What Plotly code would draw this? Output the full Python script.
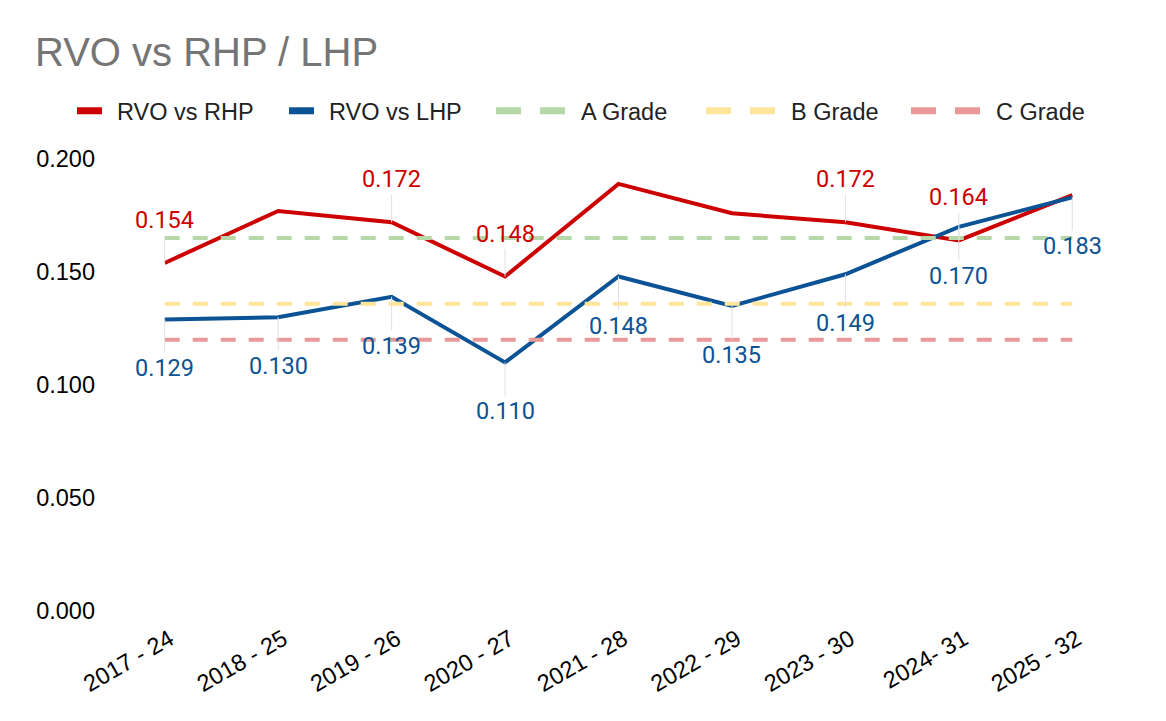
import plotly.graph_objects as go

categories = ["2017 - 24", "2018 - 25", "2019 - 26", "2020 - 27", "2021 - 28",
              "2022 - 29", "2023 - 30", "2024- 31", "2025 - 32"]
rvo_vs_rhp = [0.154, 0.177, 0.172, 0.148, 0.189, 0.176, 0.172, 0.164, 0.184]
rhp_label_shown = [True, False, True, True, False, False, True, True, False]
rvo_vs_lhp = [0.129, 0.130, 0.139, 0.110, 0.148, 0.135, 0.149, 0.170, 0.183]
lhp_label_shown = [True] * 9
grade_a = [0.165] * 9
grade_b = [0.136] * 9
grade_c = [0.120] * 9
y_ticks = [0.0, 0.05, 0.10, 0.15, 0.20]

RED = "#cc0000"
BLUE = "#0b5394"
GREEN = "#b6d7a8"
YELLOW = "#ffe599"
PINK = "#ea9999"
FS = 23.5
W, H = 1158, 713

series = [
    # name, values, colour, plot dash, legend dash, legend id, legend x (px), item width
    ("RVO vs RHP", rvo_vs_rhp, RED, "solid", "25px,200px", "legend", 64, 35),
    ("RVO vs LHP", rvo_vs_lhp, BLUE, "solid", "25px,200px", "legend2", 276, 35),
    ("A Grade", grade_a, GREEN, "15px,13px", "25px,19px", "legend3", 483, 80),
    ("B Grade", grade_b, YELLOW, "15px,13px", "25px,19px", "legend4", 693, 80),
    ("C Grade", grade_c, PINK, "15px,13px", "25px,19px", "legend5", 898, 80),
]

fig = go.Figure()
for name, vals, col, dash, _, _, _, _ in series:
    fig.add_trace(go.Scatter(x=categories, y=vals, mode="lines", name=name, showlegend=False,
                             line=dict(color=col, width=4, dash=dash)))
# legend-only entries (no data) so the legend swatches can be styled separately
for name, vals, col, _, ldash, lid, _, _ in series:
    fig.add_trace(go.Scatter(x=[None], y=[None], mode="lines", name=name, legend=lid,
                             showlegend=True, hoverinfo="skip",
                             line=dict(color=col, width=7, dash=ldash)))

annotations = []
for cat, v, show in zip(categories, rvo_vs_rhp, rhp_label_shown):
    if show:
        annotations.append(dict(x=cat, y=v, text=f"{v:.3f}", showarrow=True, arrowhead=0,
                                arrowwidth=1, arrowcolor="#e0e0e0", ax=0, ay=-43, standoff=0,
                                font=dict(family="Roboto", size=FS, color=RED)))
for cat, v, show in zip(categories, rvo_vs_lhp, lhp_label_shown):
    if show:
        annotations.append(dict(x=cat, y=v, text=f"{v:.3f}", showarrow=True, arrowhead=0,
                                arrowwidth=1, arrowcolor="#e0e0e0", ax=0, ay=49, standoff=0,
                                font=dict(family="Roboto", size=FS, color=BLUE)))

layout_legends = {}
for name, _, _, _, _, lid, lx, iw in series:
    layout_legends[lid] = dict(
        orientation="h", x=lx / W, xref="container", xanchor="left",
        y=1 - 103 / H, yref="container", yanchor="middle",
        font=dict(family="Liberation Sans, Arial", size=FS, color="#222222"),
        itemwidth=iw, bgcolor="rgba(0,0,0,0)", borderwidth=0)

fig.update_layout(
    width=W, height=H,
    margin=dict(l=100, r=37, t=151, b=110),
    paper_bgcolor="white", plot_bgcolor="white",
    font=dict(family="Liberation Sans, Arial", size=FS, color="#000000"),
    title=dict(text="RVO vs RHP / LHP", x=27 / W, xanchor="left", xref="container",
               y=1 - 44 / H, yanchor="middle", yref="container",
               font=dict(family="Liberation Sans, Arial", size=40, color="#757575")),
    annotations=annotations,
    showlegend=True,
    **layout_legends,
)
fig.update_xaxes(type="category", range=[-0.5, 8.5], showgrid=False, zeroline=False,
                 showline=False, ticks="", tickangle=-30, ticklabelstandoff=9,
                 ticklabelshift=5,
                 tickfont=dict(family="Liberation Sans, Arial", size=FS, color="#000000"))
fig.update_yaxes(range=[0, 0.2], tickvals=y_ticks, tickformat=".3f", showgrid=False,
                 zeroline=False, showline=False, ticks="", ticklabelstandoff=12,
                 tickfont=dict(family="Liberation Sans, Arial", size=FS, color="#000000"))

fig.write_html("out.html")
